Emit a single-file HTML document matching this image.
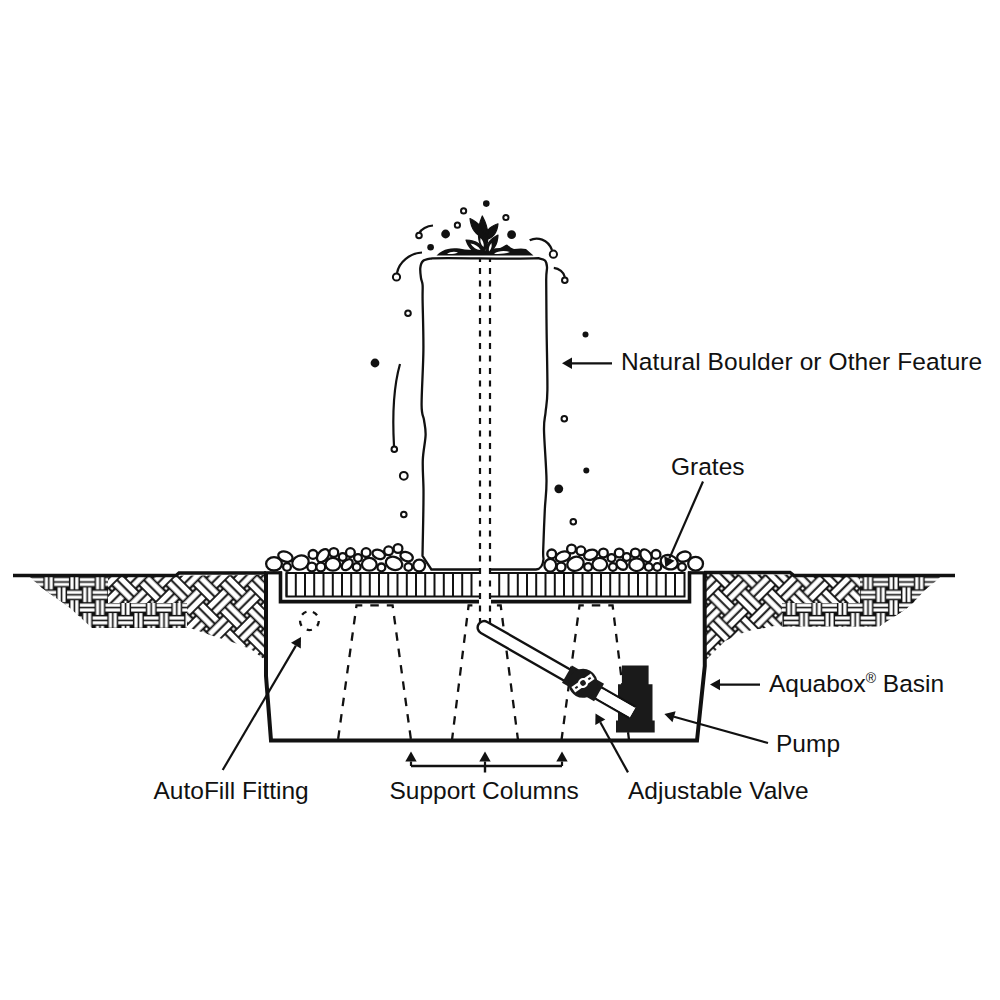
<!DOCTYPE html><html><head><meta charset="utf-8"><style>html,body{margin:0;padding:0;background:#fff;}svg{display:block}</style></head><body><svg width="1000" height="1000" viewBox="0 0 1000 1000">
<defs><pattern id="sw" patternUnits="userSpaceOnUse" x="4.0" y="575.6" width="25.6" height="25.6"><rect width="25.6" height="25.6" fill="#111"/><rect x="-0.90" y="2.40" width="14.60" height="3.20" fill="#fff"/><rect x="24.70" y="2.40" width="14.60" height="3.20" fill="#fff"/><rect x="-0.90" y="7.20" width="14.60" height="3.20" fill="#fff"/><rect x="24.70" y="7.20" width="14.60" height="3.20" fill="#fff"/><rect x="15.20" y="-0.90" width="3.20" height="14.60" fill="#fff"/><rect x="15.20" y="24.70" width="3.20" height="14.60" fill="#fff"/><rect x="20.00" y="-0.90" width="3.20" height="14.60" fill="#fff"/><rect x="20.00" y="24.70" width="3.20" height="14.60" fill="#fff"/><rect x="2.40" y="-13.70" width="3.20" height="14.60" fill="#fff"/><rect x="2.40" y="11.90" width="3.20" height="14.60" fill="#fff"/><rect x="7.20" y="-13.70" width="3.20" height="14.60" fill="#fff"/><rect x="7.20" y="11.90" width="3.20" height="14.60" fill="#fff"/><rect x="-13.70" y="15.20" width="14.60" height="3.20" fill="#fff"/><rect x="11.90" y="15.20" width="14.60" height="3.20" fill="#fff"/><rect x="-13.70" y="20.00" width="14.60" height="3.20" fill="#fff"/><rect x="11.90" y="20.00" width="14.60" height="3.20" fill="#fff"/></pattern><pattern id="dw" patternUnits="userSpaceOnUse" x="-9.55" y="1.35" width="38.2" height="38.2" patternTransform="rotate(45)"><rect width="38.2" height="38.2" fill="#111"/><rect x="-1.55" y="3.35" width="22.20" height="5.20" fill="#fff"/><rect x="36.65" y="3.35" width="22.20" height="5.20" fill="#fff"/><rect x="-1.55" y="10.55" width="22.20" height="5.20" fill="#fff"/><rect x="36.65" y="10.55" width="22.20" height="5.20" fill="#fff"/><rect x="22.45" y="-1.55" width="5.20" height="22.20" fill="#fff"/><rect x="22.45" y="36.65" width="5.20" height="22.20" fill="#fff"/><rect x="29.65" y="-1.55" width="5.20" height="22.20" fill="#fff"/><rect x="29.65" y="36.65" width="5.20" height="22.20" fill="#fff"/><rect x="3.35" y="-20.65" width="5.20" height="22.20" fill="#fff"/><rect x="3.35" y="17.55" width="5.20" height="22.20" fill="#fff"/><rect x="10.55" y="-20.65" width="5.20" height="22.20" fill="#fff"/><rect x="10.55" y="17.55" width="5.20" height="22.20" fill="#fff"/><rect x="-20.65" y="22.45" width="22.20" height="5.20" fill="#fff"/><rect x="17.55" y="22.45" width="22.20" height="5.20" fill="#fff"/><rect x="-20.65" y="29.65" width="22.20" height="5.20" fill="#fff"/><rect x="17.55" y="29.65" width="22.20" height="5.20" fill="#fff"/><rect x="-1.20" y="-1.20" width="2.4" height="2.4" fill="#fff"/><rect x="-1.20" y="17.90" width="2.4" height="2.4" fill="#fff"/><rect x="-1.20" y="37.00" width="2.4" height="2.4" fill="#fff"/><rect x="17.90" y="-1.20" width="2.4" height="2.4" fill="#fff"/><rect x="17.90" y="17.90" width="2.4" height="2.4" fill="#fff"/><rect x="17.90" y="37.00" width="2.4" height="2.4" fill="#fff"/><rect x="37.00" y="-1.20" width="2.4" height="2.4" fill="#fff"/><rect x="37.00" y="17.90" width="2.4" height="2.4" fill="#fff"/><rect x="37.00" y="37.00" width="2.4" height="2.4" fill="#fff"/></pattern><pattern id="dwL" patternUnits="userSpaceOnUse" x="17.75" y="-6.85" width="38.2" height="38.2" patternTransform="rotate(45)"><rect width="38.2" height="38.2" fill="#111"/><rect x="-1.55" y="3.35" width="22.20" height="5.20" fill="#fff"/><rect x="36.65" y="3.35" width="22.20" height="5.20" fill="#fff"/><rect x="-1.55" y="10.55" width="22.20" height="5.20" fill="#fff"/><rect x="36.65" y="10.55" width="22.20" height="5.20" fill="#fff"/><rect x="22.45" y="-1.55" width="5.20" height="22.20" fill="#fff"/><rect x="22.45" y="36.65" width="5.20" height="22.20" fill="#fff"/><rect x="29.65" y="-1.55" width="5.20" height="22.20" fill="#fff"/><rect x="29.65" y="36.65" width="5.20" height="22.20" fill="#fff"/><rect x="3.35" y="-20.65" width="5.20" height="22.20" fill="#fff"/><rect x="3.35" y="17.55" width="5.20" height="22.20" fill="#fff"/><rect x="10.55" y="-20.65" width="5.20" height="22.20" fill="#fff"/><rect x="10.55" y="17.55" width="5.20" height="22.20" fill="#fff"/><rect x="-20.65" y="22.45" width="22.20" height="5.20" fill="#fff"/><rect x="17.55" y="22.45" width="22.20" height="5.20" fill="#fff"/><rect x="-20.65" y="29.65" width="22.20" height="5.20" fill="#fff"/><rect x="17.55" y="29.65" width="22.20" height="5.20" fill="#fff"/><rect x="-1.20" y="-1.20" width="2.4" height="2.4" fill="#fff"/><rect x="-1.20" y="17.90" width="2.4" height="2.4" fill="#fff"/><rect x="-1.20" y="37.00" width="2.4" height="2.4" fill="#fff"/><rect x="17.90" y="-1.20" width="2.4" height="2.4" fill="#fff"/><rect x="17.90" y="17.90" width="2.4" height="2.4" fill="#fff"/><rect x="17.90" y="37.00" width="2.4" height="2.4" fill="#fff"/><rect x="37.00" y="-1.20" width="2.4" height="2.4" fill="#fff"/><rect x="37.00" y="17.90" width="2.4" height="2.4" fill="#fff"/><rect x="37.00" y="37.00" width="2.4" height="2.4" fill="#fff"/></pattern></defs>
<rect width="1000" height="1000" fill="#fff"/>
<path d="M30,577 L265,575 L265,660 L252,650 L238,644 L213,636 L190,628 L92,627 L70,608 L42,588 Z" fill="url(#dwL)"/>
<path d="M30,577 L108,577 L108,603 L187,603 L187,628 L92,628 L70,608 L42,588 Z" fill="url(#sw)"/>
<path d="M706,574 L940,576 L937,580 L925,590 L906,609 L879,626.5 L782,626.5 L774,626 L765,628 L752,630 L740,634 L725,641 L706,660 Z" fill="url(#dw)"/>
<path d="M860,577 L940,577 L937,580 L925,590 L913,603 L860,603 Z M782,603 L913,603 L906,609 L879,626.5 L782,626.5 Z" fill="url(#sw)"/>
<path d="M13,575.5 L176,575.5 L179,573 L266,573" stroke="#111" stroke-width="3.4" fill="none"/>
<path d="M704,572.5 L790,572.5 L794,575.5 L955,575.5" stroke="#111" stroke-width="3.4" fill="none"/>
<path d="M266,572 L266,676 L271,740.6 L697,740.6 L704.8,666 L704.6,572" stroke="#111" stroke-width="4" fill="none"/>
<path d="M264,572.8 L282,572.8" stroke="#111" stroke-width="3.2"/>
<path d="M688,572.8 L706,572.8" stroke="#111" stroke-width="3.2"/>
<path d="M280.5,571.5 L280.5,601.6 L689.5,601.6 L689.5,571.5" stroke="#111" stroke-width="3.6" fill="none"/>
<rect x="286.5" y="573" width="398" height="23.5" fill="#fff" stroke="#111" stroke-width="2"/>
<line x1="286.5" y1="573" x2="286.5" y2="596.5" stroke="#111" stroke-width="2"/>
<line x1="295.8" y1="573" x2="295.8" y2="596.5" stroke="#111" stroke-width="2"/>
<line x1="305.0" y1="573" x2="305.0" y2="596.5" stroke="#111" stroke-width="2"/>
<line x1="314.2" y1="573" x2="314.2" y2="596.5" stroke="#111" stroke-width="2"/>
<line x1="323.5" y1="573" x2="323.5" y2="596.5" stroke="#111" stroke-width="2"/>
<line x1="332.8" y1="573" x2="332.8" y2="596.5" stroke="#111" stroke-width="2"/>
<line x1="342.0" y1="573" x2="342.0" y2="596.5" stroke="#111" stroke-width="2"/>
<line x1="351.2" y1="573" x2="351.2" y2="596.5" stroke="#111" stroke-width="2"/>
<line x1="360.5" y1="573" x2="360.5" y2="596.5" stroke="#111" stroke-width="2"/>
<line x1="369.8" y1="573" x2="369.8" y2="596.5" stroke="#111" stroke-width="2"/>
<line x1="379.0" y1="573" x2="379.0" y2="596.5" stroke="#111" stroke-width="2"/>
<line x1="388.2" y1="573" x2="388.2" y2="596.5" stroke="#111" stroke-width="2"/>
<line x1="397.5" y1="573" x2="397.5" y2="596.5" stroke="#111" stroke-width="2"/>
<line x1="406.8" y1="573" x2="406.8" y2="596.5" stroke="#111" stroke-width="2"/>
<line x1="416.0" y1="573" x2="416.0" y2="596.5" stroke="#111" stroke-width="2"/>
<line x1="425.2" y1="573" x2="425.2" y2="596.5" stroke="#111" stroke-width="2"/>
<line x1="434.5" y1="573" x2="434.5" y2="596.5" stroke="#111" stroke-width="2"/>
<line x1="443.8" y1="573" x2="443.8" y2="596.5" stroke="#111" stroke-width="2"/>
<line x1="453.0" y1="573" x2="453.0" y2="596.5" stroke="#111" stroke-width="2"/>
<line x1="462.2" y1="573" x2="462.2" y2="596.5" stroke="#111" stroke-width="2"/>
<line x1="471.5" y1="573" x2="471.5" y2="596.5" stroke="#111" stroke-width="2"/>
<line x1="499.2" y1="573" x2="499.2" y2="596.5" stroke="#111" stroke-width="2"/>
<line x1="508.5" y1="573" x2="508.5" y2="596.5" stroke="#111" stroke-width="2"/>
<line x1="517.8" y1="573" x2="517.8" y2="596.5" stroke="#111" stroke-width="2"/>
<line x1="527.0" y1="573" x2="527.0" y2="596.5" stroke="#111" stroke-width="2"/>
<line x1="536.2" y1="573" x2="536.2" y2="596.5" stroke="#111" stroke-width="2"/>
<line x1="545.5" y1="573" x2="545.5" y2="596.5" stroke="#111" stroke-width="2"/>
<line x1="554.8" y1="573" x2="554.8" y2="596.5" stroke="#111" stroke-width="2"/>
<line x1="564.0" y1="573" x2="564.0" y2="596.5" stroke="#111" stroke-width="2"/>
<line x1="573.2" y1="573" x2="573.2" y2="596.5" stroke="#111" stroke-width="2"/>
<line x1="582.5" y1="573" x2="582.5" y2="596.5" stroke="#111" stroke-width="2"/>
<line x1="591.8" y1="573" x2="591.8" y2="596.5" stroke="#111" stroke-width="2"/>
<line x1="601.0" y1="573" x2="601.0" y2="596.5" stroke="#111" stroke-width="2"/>
<line x1="610.2" y1="573" x2="610.2" y2="596.5" stroke="#111" stroke-width="2"/>
<line x1="619.5" y1="573" x2="619.5" y2="596.5" stroke="#111" stroke-width="2"/>
<line x1="628.8" y1="573" x2="628.8" y2="596.5" stroke="#111" stroke-width="2"/>
<line x1="638.0" y1="573" x2="638.0" y2="596.5" stroke="#111" stroke-width="2"/>
<line x1="647.2" y1="573" x2="647.2" y2="596.5" stroke="#111" stroke-width="2"/>
<line x1="656.5" y1="573" x2="656.5" y2="596.5" stroke="#111" stroke-width="2"/>
<line x1="665.8" y1="573" x2="665.8" y2="596.5" stroke="#111" stroke-width="2"/>
<line x1="675.0" y1="573" x2="675.0" y2="596.5" stroke="#111" stroke-width="2"/>
<path d="M431.4,569.5 L422.50,556.00 C422.55,553.33 422.68,546.00 422.80,540.00 C422.92,534.00 423.08,528.33 423.20,520.00 C423.32,511.67 423.57,500.00 423.50,490.00 C423.43,480.00 422.45,469.17 422.80,460.00 C423.15,450.83 425.40,441.67 425.60,435.00 C425.80,428.33 424.67,425.00 424.00,420.00 C423.33,415.00 421.70,416.67 421.60,405.00 C421.50,393.33 423.23,367.50 423.40,350.00 C423.57,332.50 422.73,310.83 422.60,300.00 C422.47,289.17 422.87,288.67 422.60,285.00 C422.33,281.33 421.38,280.83 421.00,278.00 C420.62,275.17 419.97,270.83 420.30,268.00 C420.63,265.17 421.05,262.62 423.00,261.00 C424.95,259.38 430.50,258.75 432.00,258.30 C460,257.5 510,259.5 538.5,258.2  C539.58,258.58 543.58,259.03 545.00,260.50 C546.42,261.97 546.80,263.75 547.00,267.00 C547.20,270.25 546.27,269.50 546.20,280.00 C546.13,290.50 546.40,311.67 546.60,330.00 C546.80,348.33 547.57,376.33 547.40,390.00 C547.23,403.67 546.17,405.33 545.60,412.00 C545.03,418.67 543.85,418.67 544.00,430.00 C544.15,441.33 546.37,466.67 546.50,480.00 C546.63,493.33 545.35,498.33 544.80,510.00 C544.25,521.67 543.42,541.83 543.20,550.00 C542.98,558.17 543.45,557.50 543.50,559.00 C543,565 541,569 536,569.5 Z" fill="#fff" stroke="#111" stroke-width="2.3"/>
<ellipse cx="274" cy="563.8" rx="7.9" ry="6.7" transform="rotate(0 274 563.8)" fill="#fff" stroke="#111" stroke-width="2.3"/>
<ellipse cx="285.4" cy="556.6" rx="7.4" ry="4.9" transform="rotate(20 285.4 556.6)" fill="#fff" stroke="#111" stroke-width="2.3"/>
<ellipse cx="287" cy="567" rx="3.9" ry="3.9" transform="rotate(0 287 567)" fill="#fff" stroke="#111" stroke-width="2.3"/>
<ellipse cx="300.5" cy="562.5" rx="8.4" ry="6.9" transform="rotate(-20 300.5 562.5)" fill="#fff" stroke="#111" stroke-width="2.3"/>
<ellipse cx="313" cy="554.4" rx="4.4" ry="4.4" transform="rotate(0 313 554.4)" fill="#fff" stroke="#111" stroke-width="2.3"/>
<ellipse cx="311.8" cy="567" rx="4.4" ry="4.4" transform="rotate(0 311.8 567)" fill="#fff" stroke="#111" stroke-width="2.3"/>
<ellipse cx="323" cy="555.7" rx="4.9" ry="7.4" transform="rotate(40 323 555.7)" fill="#fff" stroke="#111" stroke-width="2.3"/>
<ellipse cx="320.8" cy="567" rx="4.4" ry="4.4" transform="rotate(0 320.8 567)" fill="#fff" stroke="#111" stroke-width="2.3"/>
<ellipse cx="333.8" cy="552.5" rx="4.4" ry="4.4" transform="rotate(0 333.8 552.5)" fill="#fff" stroke="#111" stroke-width="2.3"/>
<ellipse cx="332.9" cy="564.3" rx="7.4" ry="6.4" transform="rotate(0 332.9 564.3)" fill="#fff" stroke="#111" stroke-width="2.3"/>
<ellipse cx="342.7" cy="557" rx="3.9" ry="3.9" transform="rotate(0 342.7 557)" fill="#fff" stroke="#111" stroke-width="2.3"/>
<ellipse cx="347.2" cy="564.7" rx="6.4" ry="4.4" transform="rotate(-45 347.2 564.7)" fill="#fff" stroke="#111" stroke-width="2.3"/>
<ellipse cx="350.4" cy="552.6" rx="4.4" ry="4.4" transform="rotate(0 350.4 552.6)" fill="#fff" stroke="#111" stroke-width="2.3"/>
<ellipse cx="358" cy="558" rx="3.9" ry="3.9" transform="rotate(0 358 558)" fill="#fff" stroke="#111" stroke-width="2.3"/>
<ellipse cx="356.7" cy="567" rx="3.9" ry="3.9" transform="rotate(0 356.7 567)" fill="#fff" stroke="#111" stroke-width="2.3"/>
<ellipse cx="366.1" cy="552.6" rx="4.4" ry="4.4" transform="rotate(0 366.1 552.6)" fill="#fff" stroke="#111" stroke-width="2.3"/>
<ellipse cx="369.3" cy="564.3" rx="7.4" ry="6.4" transform="rotate(0 369.3 564.3)" fill="#fff" stroke="#111" stroke-width="2.3"/>
<ellipse cx="378.7" cy="554.4" rx="6.4" ry="4.4" transform="rotate(20 378.7 554.4)" fill="#fff" stroke="#111" stroke-width="2.3"/>
<ellipse cx="381.4" cy="567.4" rx="3.9" ry="3.9" transform="rotate(0 381.4 567.4)" fill="#fff" stroke="#111" stroke-width="2.3"/>
<ellipse cx="388.6" cy="550.8" rx="4.4" ry="4.4" transform="rotate(0 388.6 550.8)" fill="#fff" stroke="#111" stroke-width="2.3"/>
<ellipse cx="394" cy="563.4" rx="8.4" ry="6.4" transform="rotate(20 394 563.4)" fill="#fff" stroke="#111" stroke-width="2.3"/>
<ellipse cx="398" cy="548.5" rx="4.4" ry="4.4" transform="rotate(0 398 548.5)" fill="#fff" stroke="#111" stroke-width="2.3"/>
<ellipse cx="406.6" cy="556.6" rx="6.4" ry="4.4" transform="rotate(20 406.6 556.6)" fill="#fff" stroke="#111" stroke-width="2.3"/>
<ellipse cx="408.4" cy="567" rx="3.9" ry="3.9" transform="rotate(0 408.4 567)" fill="#fff" stroke="#111" stroke-width="2.3"/>
<ellipse cx="419.2" cy="565.6" rx="5.9" ry="5.9" transform="rotate(0 419.2 565.6)" fill="#fff" stroke="#111" stroke-width="2.3"/>
<ellipse cx="551.7" cy="553.9" rx="4.4" ry="4.4" transform="rotate(0 551.7 553.9)" fill="#fff" stroke="#111" stroke-width="2.3"/>
<ellipse cx="550.3" cy="565.2" rx="5.9" ry="6.4" transform="rotate(0 550.3 565.2)" fill="#fff" stroke="#111" stroke-width="2.3"/>
<ellipse cx="562.9" cy="556.6" rx="7.4" ry="4.9" transform="rotate(-20 562.9 556.6)" fill="#fff" stroke="#111" stroke-width="2.3"/>
<ellipse cx="561.1" cy="567" rx="4.4" ry="4.4" transform="rotate(0 561.1 567)" fill="#fff" stroke="#111" stroke-width="2.3"/>
<ellipse cx="571.5" cy="549" rx="4.4" ry="4.4" transform="rotate(0 571.5 549)" fill="#fff" stroke="#111" stroke-width="2.3"/>
<ellipse cx="575.5" cy="563.8" rx="8.4" ry="6.9" transform="rotate(-20 575.5 563.8)" fill="#fff" stroke="#111" stroke-width="2.3"/>
<ellipse cx="580.9" cy="550.8" rx="4.4" ry="4.4" transform="rotate(0 580.9 550.8)" fill="#fff" stroke="#111" stroke-width="2.3"/>
<ellipse cx="588.1" cy="567" rx="3.9" ry="3.9" transform="rotate(0 588.1 567)" fill="#fff" stroke="#111" stroke-width="2.3"/>
<ellipse cx="590.8" cy="554.8" rx="6.9" ry="4.9" transform="rotate(-20 590.8 554.8)" fill="#fff" stroke="#111" stroke-width="2.3"/>
<ellipse cx="603.4" cy="553" rx="4.4" ry="4.4" transform="rotate(0 603.4 553)" fill="#fff" stroke="#111" stroke-width="2.3"/>
<ellipse cx="599.8" cy="564.3" rx="7.4" ry="6.4" transform="rotate(0 599.8 564.3)" fill="#fff" stroke="#111" stroke-width="2.3"/>
<ellipse cx="611.5" cy="558" rx="3.9" ry="3.9" transform="rotate(0 611.5 558)" fill="#fff" stroke="#111" stroke-width="2.3"/>
<ellipse cx="612.9" cy="567" rx="3.9" ry="3.9" transform="rotate(0 612.9 567)" fill="#fff" stroke="#111" stroke-width="2.3"/>
<ellipse cx="619.2" cy="553" rx="4.4" ry="4.4" transform="rotate(0 619.2 553)" fill="#fff" stroke="#111" stroke-width="2.3"/>
<ellipse cx="621.8" cy="564.7" rx="5.9" ry="4.4" transform="rotate(40 621.8 564.7)" fill="#fff" stroke="#111" stroke-width="2.3"/>
<ellipse cx="626.7" cy="557" rx="3.9" ry="3.9" transform="rotate(0 626.7 557)" fill="#fff" stroke="#111" stroke-width="2.3"/>
<ellipse cx="635.3" cy="553" rx="4.4" ry="4.4" transform="rotate(0 635.3 553)" fill="#fff" stroke="#111" stroke-width="2.3"/>
<ellipse cx="636.6" cy="564.7" rx="7.4" ry="6.4" transform="rotate(0 636.6 564.7)" fill="#fff" stroke="#111" stroke-width="2.3"/>
<ellipse cx="646" cy="555.7" rx="4.9" ry="6.9" transform="rotate(-35 646 555.7)" fill="#fff" stroke="#111" stroke-width="2.3"/>
<ellipse cx="648.75" cy="567" rx="3.9" ry="3.9" transform="rotate(0 648.75 567)" fill="#fff" stroke="#111" stroke-width="2.3"/>
<ellipse cx="656" cy="554.4" rx="4.4" ry="4.4" transform="rotate(0 656 554.4)" fill="#fff" stroke="#111" stroke-width="2.3"/>
<ellipse cx="657.3" cy="567" rx="3.9" ry="3.9" transform="rotate(0 657.3 567)" fill="#fff" stroke="#111" stroke-width="2.3"/>
<ellipse cx="669.2" cy="562.2" rx="8.8" ry="6.9" transform="rotate(22 669.2 562.2)" fill="#fff" stroke="#111" stroke-width="2.3"/>
<ellipse cx="683.9" cy="556.6" rx="6.9" ry="4.9" transform="rotate(-15 683.9 556.6)" fill="#fff" stroke="#111" stroke-width="2.3"/>
<ellipse cx="682" cy="567" rx="3.9" ry="3.9" transform="rotate(0 682 567)" fill="#fff" stroke="#111" stroke-width="2.3"/>
<ellipse cx="695.6" cy="563.8" rx="7.4" ry="6.9" transform="rotate(0 695.6 563.8)" fill="#fff" stroke="#111" stroke-width="2.3"/>
<circle cx="486.3" cy="203.6" r="3.3" fill="#111"/>
<circle cx="463.6" cy="210.9" r="2.6" fill="#fff" stroke="#111" stroke-width="2.0"/>
<circle cx="505.9" cy="217.5" r="2.6" fill="#fff" stroke="#111" stroke-width="2.0"/>
<circle cx="457.4" cy="225.2" r="2.6" fill="#fff" stroke="#111" stroke-width="2.0"/>
<circle cx="445.6" cy="234" r="4.4" fill="#111"/>
<circle cx="511.6" cy="234.7" r="4.4" fill="#111"/>
<circle cx="430.6" cy="247.2" r="3.3" fill="#111"/>
<path d="M433,225.5 C427,226 421,229 419.5,233" stroke="#111" stroke-width="2.2" fill="none"/>
<circle cx="419" cy="235.5" r="2.8" fill="#fff" stroke="#111" stroke-width="2.0"/>
<path d="M422,252.5 C410,253 399,262 397,273" stroke="#111" stroke-width="2.2" fill="none"/>
<circle cx="396.5" cy="277" r="3.6" fill="#fff" stroke="#111" stroke-width="2.0"/>
<path d="M529.7,240.3 C537,236.5 548,239 552,250" stroke="#111" stroke-width="2.2" fill="none"/>
<circle cx="553.4" cy="254.2" r="3.6" fill="#fff" stroke="#111" stroke-width="2.0"/>
<path d="M553.8,267.9 C559,268.5 564,272 564.8,277" stroke="#111" stroke-width="2.2" fill="none"/>
<circle cx="564.8" cy="280.2" r="2.8" fill="#fff" stroke="#111" stroke-width="2.0"/>
<circle cx="408" cy="313.3" r="2.8" fill="#fff" stroke="#111" stroke-width="2.0"/>
<circle cx="375" cy="363" r="4.4" fill="#111"/>
<path d="M400,364 C394,385 392,410 394,446" stroke="#111" stroke-width="2.2" fill="none"/>
<circle cx="394.3" cy="449.3" r="2.8" fill="#fff" stroke="#111" stroke-width="2.0"/>
<circle cx="403.8" cy="475.8" r="3.9" fill="#fff" stroke="#111" stroke-width="2.0"/>
<circle cx="403.8" cy="514.5" r="2.8" fill="#fff" stroke="#111" stroke-width="2.0"/>
<circle cx="585.5" cy="334.5" r="3" fill="#111"/>
<circle cx="564.3" cy="418.8" r="2.8" fill="#fff" stroke="#111" stroke-width="2.0"/>
<circle cx="586.3" cy="470.5" r="3" fill="#111"/>
<circle cx="558.8" cy="488.8" r="4.4" fill="#111"/>
<circle cx="573.3" cy="521.8" r="2.8" fill="#fff" stroke="#111" stroke-width="2.0"/>
<path d="M436.5,255.5 C440,252 444,249.5 448,249 C452,248 458,248 465,249.6 C470,250 476,250 484,251 C490,249 494,248 500,248 C503,247 505,245 507,244.6 C509,246 511,248.5 514,249 C518,248.5 522,248 526,249 L533.5,255.5 Z" fill="#111"/>
<path d="M447,253.8 C450,251.5 455,251.2 458,252.5 C455,254 450,254.2 447,253.8 Z M494,253.8 C498,250.5 505,250.2 510,252 C505,254 498,254.2 494,253.8 Z" fill="#fff"/>
<path d="M484.0,252.0 Q492.8,235.3 482.3,216.0 Q473.6,236.3 484.0,252.0 Z M484.0,238.0 Q483.9,224.7 470.0,218.5 Q471.5,233.7 484.0,238.0 Z M485.0,240.0 Q496.8,237.5 498.0,223.8 Q484.9,227.9 485.0,240.0 Z" fill="#111" stroke="#111" stroke-width="1.2" stroke-linejoin="round"/>
<path d="M484.5,253.5 Q481.5,240.2 466.0,240.0 Q470.9,254.7 484.5,253.5 Z M486.0,253.5 Q497.6,249.2 498.0,235.0 Q485.2,241.2 486.0,253.5 Z" fill="#111" stroke="#111" stroke-width="1.2" stroke-linejoin="round"/>
<path d="M480.5,250.0 Q477.7,244.5 470.5,243.5 Q474.3,249.6 480.5,250.0 Z M489.0,251.5 Q492.3,248.3 491.5,243.0 Q488.0,247.0 489.0,251.5 Z M483.5,247.0 Q484.6,242.1 480.5,238.0 Q479.7,243.8 483.5,247.0 Z" fill="#fff"/>
<path d="M374.55,605.4 L356.5,605.4 L338,740 M374.55,605.4 L392.6,605.4 L411,740" stroke="#111" stroke-width="2.3" stroke-dasharray="8.5,8" stroke-dashoffset="4.25" fill="none"/>
<path d="M484.65,605.4 L468.6,605.4 L452,740 M484.65,605.4 L500.7,605.4 L518,740" stroke="#111" stroke-width="2.3" stroke-dasharray="8.5,8" stroke-dashoffset="4.25" fill="none"/>
<path d="M596.05,605.4 L579.5,605.4 L561.5,740 M596.05,605.4 L612.6,605.4 L629,740" stroke="#111" stroke-width="2.3" stroke-dasharray="8.5,8" stroke-dashoffset="4.25" fill="none"/>
<rect x="479" y="566" width="12" height="52" fill="#fff"/>
<path d="M480,259 L480,262 M490,259 L490,262" stroke="#111" stroke-width="2.2" fill="none"/>
<path d="M480,268 L480,628 M490,268 L490,628" stroke="#111" stroke-width="2.2" stroke-dasharray="6,6.5" fill="none"/>
<circle cx="309.4" cy="620.7" r="9.4" fill="none" stroke="#111" stroke-width="2.3" stroke-dasharray="5.3,6.51" stroke-dashoffset="-0.3"/>
<path d="M621.9,665.4 L648.6,665.4 L648.6,684.2 L652.5,684.2 L652.5,720.6 L654.7,720.6 L654.7,732.6 L616,732.6 L616,720.6 L618,720.6 L618,684.2 L621.9,684.2 Z" fill="#1a1a1a"/>
<g transform="translate(478.5,624.3) rotate(29.8)"><path d="M177.5,-6.4 L6.4,-6.4 A6.4,6.4 0 0 0 6.4,6.4 L177.5,6.4" fill="#fff" stroke="#111" stroke-width="2.4"/><rect x="140" y="-5.2" width="37.5" height="10.4" fill="#fff"/></g>
<g transform="translate(583,683.3) rotate(29.8)"><rect x="-18.5" y="-10" width="37" height="20" fill="#1a1a1a"/><circle cx="0" cy="0" r="14.5" fill="#1a1a1a"/></g>
<g transform="translate(583,683) rotate(-34.5)"><rect x="-11.8" y="-3.3" width="23.6" height="6.6" fill="#fff"/><circle cx="0" cy="0" r="5" fill="#fff"/><circle cx="0" cy="0" r="2.8" fill="#1a1a1a"/><rect x="-9.3" y="-1" width="2.8" height="2" fill="#1a1a1a"/><rect x="6.5" y="-1" width="2.8" height="2" fill="#1a1a1a"/></g>
<line x1="572.0" y1="363.3" x2="612" y2="363.3" stroke="#111" stroke-width="2.2"/>
<path d="M562,363.3 L572.0,369.0 L572.0,357.6 Z" fill="#111"/>
<line x1="669.4" y1="558.4" x2="703" y2="481.5" stroke="#111" stroke-width="2.2"/>
<path d="M665.4,567.6 L674.6,560.7 L664.2,556.2 Z" fill="#111"/>
<line x1="720.0" y1="684.6" x2="760" y2="684.6" stroke="#111" stroke-width="2.2"/>
<path d="M710,684.6 L720.0,690.3 L720.0,678.9 Z" fill="#111"/>
<line x1="674.0" y1="716.7" x2="768" y2="743" stroke="#111" stroke-width="2.2"/>
<path d="M664.4,714 L672.5,722.2 L675.6,711.2 Z" fill="#111"/>
<line x1="600.3" y1="722.3" x2="628" y2="772.4" stroke="#111" stroke-width="2.2"/>
<path d="M595.5,713.5 L595.3,725.0 L605.3,719.5 Z" fill="#111"/>
<line x1="295.9" y1="645.6" x2="222.7" y2="770" stroke="#111" stroke-width="2.2"/>
<path d="M301,637 L291.0,642.7 L300.8,648.5 Z" fill="#111"/>
<line x1="411.0" y1="761.5" x2="411" y2="766" stroke="#111" stroke-width="2.2"/>
<path d="M411,751.5 L405.3,761.5 L416.7,761.5 Z" fill="#111"/>
<line x1="485.0" y1="761.5" x2="485" y2="766" stroke="#111" stroke-width="2.2"/>
<path d="M485,751.5 L479.3,761.5 L490.7,761.5 Z" fill="#111"/>
<line x1="562.0" y1="761.5" x2="562" y2="766" stroke="#111" stroke-width="2.2"/>
<path d="M562,751.5 L556.3,761.5 L567.7,761.5 Z" fill="#111"/>
<path d="M411,766 L562,766 M485,766 L485,772.5" stroke="#111" stroke-width="2.4" fill="none"/>
<text x="621" y="369.6" font-family="Liberation Sans, sans-serif" font-size="24.5" fill="#111" letter-spacing="0.1">Natural Boulder or Other Feature</text>
<text x="671" y="474.8" font-family="Liberation Sans, sans-serif" font-size="24.5" fill="#111">Grates</text>
<text x="769" y="691.6" font-family="Liberation Sans, sans-serif" font-size="24.5" fill="#111">Aquabox<tspan font-size="14" dy="-9">®</tspan><tspan dy="9"> Basin</tspan></text>
<text x="776" y="751.8" font-family="Liberation Sans, sans-serif" font-size="24.5" fill="#111">Pump</text>
<text x="153.5" y="799.2" font-family="Liberation Sans, sans-serif" font-size="24.5" fill="#111">AutoFill Fitting</text>
<text x="389.5" y="799.3" font-family="Liberation Sans, sans-serif" font-size="24.5" fill="#111">Support Columns</text>
<text x="628" y="799" font-family="Liberation Sans, sans-serif" font-size="24.5" fill="#111">Adjustable Valve</text>
</svg></body></html>
